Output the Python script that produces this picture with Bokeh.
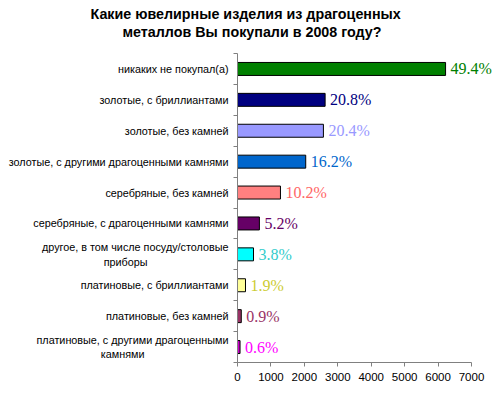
from bokeh.plotting import figure
from bokeh.models import ColumnDataSource, FixedTicker, LabelSet, Range1d, Title
from bokeh.embed import file_html
from bokeh.resources import INLINE

NB = "\u00a0"
categories = [
    "никаких не покупал(а)",
    "золотые, с бриллиантами",
    "золотые, без камней",
    "золотые, с другими драгоценными камнями",
    "серебряные, без камней",
    "серебряные, с драгоценными камнями",
    "другое, в том числе посуду/столовые\nприборы" + NB * 27,
    "платиновые, с бриллиантами",
    "платиновые, без камней",
    "платиновые, с другими драгоценными\nкамнями" + NB * 28,
]
values = [6224, 2621, 2570, 2041, 1285, 655, 479, 239, 113, 76]
percents = ["49.4%", "20.8%", "20.4%", "16.2%", "10.2%", "5.2%", "3.8%", "1.9%", "0.9%", "0.6%"]
bar_colors = ["#008000", "#000080", "#9999FF", "#0066CC", "#FF8080",
              "#660066", "#00FFFF", "#FFFF99", "#993366", "#CC00CC"]
label_colors = ["#008000", "#000080", "#9999FF", "#0066CC", "#FF6666",
                "#660066", "#33CCCC", "#CCCC33", "#993366", "#FF00FF"]
x_ticks = [0, 1000, 2000, 3000, 4000, 5000, 6000, 7000]
title_lines = ["Какие ювелирные изделия из драгоценных", "металлов Вы покупали в 2008 году?"]

n = len(categories)
centers = [n - 0.5 - i for i in range(n)]

src = ColumnDataSource(dict(y=centers, v=values, c=bar_colors, lc=label_colors, t=percents))

W, H = 500, 397
p = figure(width=W, height=H, output_backend="svg", toolbar_location=None,
           x_range=Range1d(0, 7867), y_range=Range1d(0, n),
           min_border_left=237, min_border_right=0, min_border_top=53, min_border_bottom=35)
p.outline_line_color = None
p.grid.visible = False
p.background_fill_color = "white"

p.hbar(y="y", left=0, right="v", height=0.42, fill_color="c", line_color="black",
       line_width=1, source=src)

labels = LabelSet(x="v", y="y", text="t", source=src, text_color="lc", x_offset=5,
                  text_font="Liberation Serif", text_font_size="16px",
                  text_baseline="middle", text_align="left")
p.add_layout(labels)

xa = p.xaxis[0]
xa.ticker = FixedTicker(ticks=x_ticks)
xa.bounds = (0, 7000)
xa.major_tick_out = 4
xa.major_tick_in = 0
xa.minor_tick_line_color = None
xa.major_label_text_font = "Liberation Sans"
xa.major_label_text_font_size = "11.5px"
xa.major_label_text_color = "black"
xa.major_label_standoff = 6
xa.axis_line_color = "#808080"
xa.major_tick_line_color = "#808080"

ya = p.yaxis[0]
ya.ticker = FixedTicker(ticks=centers, minor_ticks=list(range(n + 1)))
ya.major_label_overrides = {c: cat for c, cat in zip(centers, categories)}
ya.major_tick_out = 0
ya.major_tick_in = 0
ya.minor_tick_out = 4
ya.minor_tick_in = 0
ya.minor_tick_line_color = "#808080"
ya.axis_line_color = "#808080"
ya.major_label_text_font = "Liberation Sans"
ya.major_label_text_font_size = "10.8px"
ya.major_label_text_color = "black"
ya.major_label_standoff = 5

# title lines, added nearest-to-frame first
for text, off, so in [(title_lines[1], 122 - 237, 28), (title_lines[0], 90 - 237, -28)]:
    p.add_layout(Title(text=text, align="left", offset=off, standoff=so,
                       text_font="Liberation Sans", text_font_style="bold",
                       text_font_size="14.3px", text_color="black"), "above")

open("out.html", "w").write(file_html(p, INLINE))
